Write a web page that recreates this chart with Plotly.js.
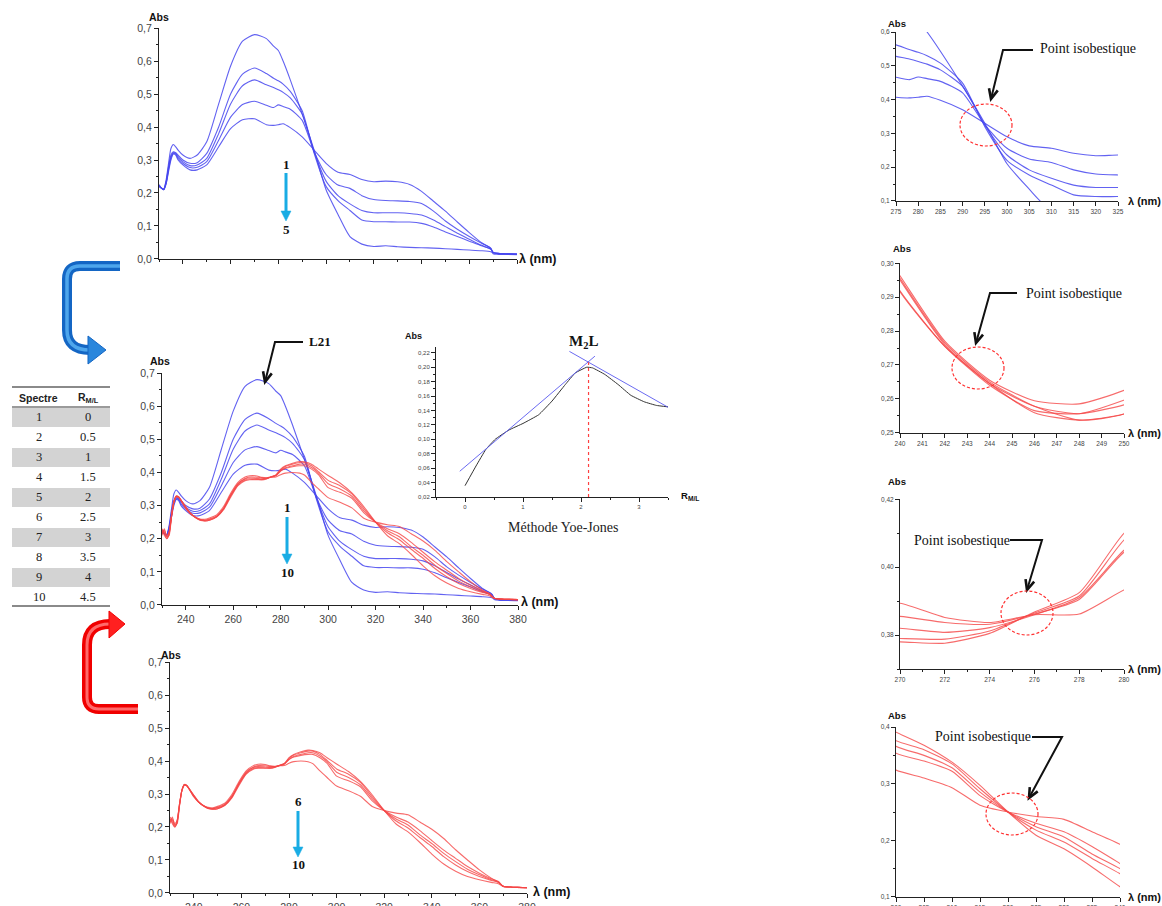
<!DOCTYPE html>
<html><head><meta charset="utf-8">
<script src="https://cdn.plot.ly/plotly-3.0.1.min.js"></script>
<style>body{margin:0;background:#fff}#c{width:1162px;height:906px}</style>
</head><body><div id="c"></div>
<script>
// ---------- DATA ----------
const WL_BLUE = [230,231,232,233,234,235,236,237,238,240,243,246,250,255,260,265,270,275,278,280,282,285,290,295,300,305,310,315,320,325,330,335,340,345,350,355,360,365,369,370,372,375,380];
const SPECTRE_1 = [0.22,0.215,0.212,0.24,0.29,0.335,0.347,0.34,0.33,0.315,0.305,0.315,0.355,0.47,0.585,0.66,0.68,0.668,0.645,0.632,0.60,0.543,0.44,0.33,0.21,0.135,0.068,0.045,0.038,0.04,0.037,0.035,0.034,0.033,0.031,0.029,0.027,0.025,0.022,0.018,0.016,0.015,0.014];
const SPECTRE_2 = [0.22,0.215,0.212,0.235,0.28,0.315,0.325,0.322,0.315,0.30,0.29,0.292,0.32,0.40,0.50,0.56,0.579,0.562,0.548,0.54,0.53,0.508,0.449,0.32,0.22,0.177,0.147,0.118,0.113,0.113,0.112,0.112,0.108,0.097,0.082,0.068,0.054,0.04,0.03,0.02,0.017,0.016,0.015];
const SPECTRE_3 = [0.22,0.215,0.21,0.232,0.275,0.31,0.322,0.32,0.31,0.295,0.283,0.285,0.305,0.38,0.47,0.525,0.543,0.528,0.52,0.513,0.505,0.488,0.439,0.325,0.236,0.192,0.167,0.147,0.14,0.14,0.14,0.138,0.133,0.118,0.098,0.078,0.06,0.042,0.03,0.02,0.017,0.016,0.015];
const SPECTRE_4 = [0.225,0.215,0.21,0.23,0.27,0.305,0.32,0.318,0.305,0.29,0.277,0.278,0.295,0.36,0.43,0.468,0.478,0.466,0.459,0.467,0.462,0.454,0.42,0.325,0.256,0.224,0.214,0.192,0.18,0.177,0.176,0.174,0.168,0.145,0.115,0.09,0.068,0.048,0.033,0.02,0.017,0.016,0.015];
const SPECTRE_5 = [0.225,0.215,0.21,0.228,0.265,0.30,0.318,0.315,0.30,0.285,0.27,0.27,0.285,0.34,0.395,0.422,0.425,0.407,0.405,0.407,0.41,0.398,0.37,0.33,0.29,0.263,0.256,0.241,0.234,0.236,0.234,0.226,0.205,0.175,0.145,0.112,0.08,0.05,0.032,0.016,0.014,0.014,0.013];

const WL_RED = [230,231,232,233,234,235,236,237,238,240,242,244,246,248,250,253,256,259,262,265,267,270,272,274,276,278,280,282,285,288,290,293,296,300,305,310,315,320,325,330,335,340,345,350,355,360,365,368,370,373,376,380];
const SPECTRE_6 = [0.21,0.23,0.205,0.21,0.265,0.31,0.328,0.326,0.316,0.2916,0.2755,0.2645,0.2559,0.2537,0.2555,0.265,0.288,0.326,0.36,0.375,0.378,0.378,0.3776,0.3805,0.3868,0.3925,0.41,0.42,0.428,0.433,0.432,0.425,0.41,0.391,0.368,0.338,0.297,0.25,0.209,0.185,0.153,0.118,0.088,0.066,0.05,0.04,0.032,0.028,0.02,0.018,0.017,0.016];
const SPECTRE_7 = [0.225,0.215,0.2,0.215,0.268,0.31,0.327,0.325,0.315,0.2919,0.2755,0.264,0.2565,0.2556,0.2582,0.266,0.29,0.33,0.362,0.377,0.38,0.379,0.3788,0.3812,0.3865,0.3915,0.408,0.418,0.425,0.43,0.43,0.42,0.402,0.376,0.36,0.335,0.291,0.25,0.218,0.197,0.168,0.141,0.11,0.085,0.065,0.05,0.038,0.032,0.02,0.018,0.017,0.016];
const SPECTRE_8 = [0.23,0.22,0.205,0.22,0.27,0.312,0.328,0.326,0.316,0.2951,0.276,0.2645,0.2578,0.2556,0.2596,0.268,0.293,0.332,0.365,0.38,0.383,0.382,0.3808,0.3822,0.386,0.391,0.405,0.414,0.42,0.425,0.425,0.415,0.398,0.366,0.35,0.328,0.285,0.25,0.224,0.206,0.176,0.15,0.12,0.095,0.072,0.055,0.04,0.033,0.02,0.018,0.017,0.016];
const SPECTRE_9 = [0.215,0.225,0.21,0.22,0.27,0.312,0.329,0.327,0.317,0.2956,0.2765,0.265,0.2578,0.2537,0.2555,0.267,0.292,0.333,0.366,0.382,0.386,0.3855,0.3837,0.3832,0.3862,0.3905,0.4044,0.412,0.417,0.42,0.42,0.41,0.393,0.354,0.34,0.322,0.279,0.25,0.23,0.215,0.189,0.159,0.13,0.105,0.08,0.06,0.043,0.035,0.02,0.018,0.017,0.016];
const SPECTRE_10 = [0.225,0.21,0.2,0.215,0.265,0.31,0.326,0.325,0.316,0.2963,0.277,0.2655,0.2594,0.2585,0.2625,0.272,0.298,0.338,0.37,0.386,0.39,0.3894,0.3852,0.3837,0.386,0.3862,0.3933,0.398,0.40,0.398,0.392,0.37,0.35,0.324,0.31,0.293,0.262,0.25,0.242,0.237,0.215,0.193,0.165,0.131,0.1,0.07,0.045,0.033,0.02,0.018,0.017,0.016];

// Yoe-Jones (mole ratio) inset
const YJ_R = [0,0.19,0.36,0.52,0.76,1,1.27,1.5,1.73,1.9,2.1,2.2,2.41,2.64,2.86,3.09,3.3,3.5];
const YJ_A = [0.0357,0.063,0.086,0.1,0.113,0.122,0.134,0.153,0.176,0.192,0.2,0.199,0.19,0.176,0.161,0.152,0.147,0.145];
const YJ_FIT1_R = [-0.09,2.24], YJ_FIT1_A = [0.0557,0.2153];
const YJ_FIT2_R = [1.8,3.5],  YJ_FIT2_A = [0.2219,0.1445];
const YJ_MAX_R = [2.13,2.13],  YJ_MAX_A = [0.02,0.207];

// table
const TAB_SPECTRE = ['1','2','3','4','5','6','7','8','9','10'];
const TAB_RML = ['0','0.5','1','1.5','2','2.5','3','3.5','4','4.5'];

// ---------- HELPERS ----------
const W = 1162, H = 906;
const fx = x => x / W, fy = y => 1 - y / H;
function P(segs){
  let s = '';
  for (const g of segs){ s += g[0]; for (let i = 1; i < g.length; i += 2) s += ' ' + fx(g[i]).toFixed(5) + ',' + fy(g[i+1]).toFixed(5) + ' '; }
  return s;
}
function pathShape(segs, color, width, fill){
  const o = {type:'path', xref:'paper', yref:'paper', path:P(segs), line:{color:color, width:width}};
  if (fill) o.fillcolor = fill;
  return o;
}
function arrowFilled(x0,y0,x1,y1,color,w,hl,hw){
  const dx=x1-x0, dy=y1-y0, L=Math.hypot(dx,dy), ux=dx/L, uy=dy/L, nx=-uy, ny=ux;
  const bx=x1-ux*hl, by=y1-uy*hl;
  return [pathShape([['M',x0,y0],['L',bx,by]], color, w),
          pathShape([['M',bx+nx*hw/2,by+ny*hw/2],['L',x1,y1],['L',bx-nx*hw/2,by-ny*hw/2],['Z']], color, 0.5, color)];
}
function arrowV(pts,color,w,hl,hw){
  const segs = pts.map((p,i)=>[i?'L':'M',p[0],p[1]]);
  const a = pts[pts.length-2], b = pts[pts.length-1];
  const dx=b[0]-a[0], dy=b[1]-a[1], L=Math.hypot(dx,dy), ux=dx/L, uy=dy/L, nx=-uy, ny=ux;
  const bx=b[0]-ux*hl, by=b[1]-uy*hl;
  return [pathShape(segs, color, w),
          pathShape([['M',bx+nx*hw/2,by+ny*hw/2],['L',b[0],b[1]],['L',bx-nx*hw/2,by-ny*hw/2]], color, w+0.6)];
}
function ellipse(cx,cy,rx,ry){
  return {type:'circle', xref:'paper', yref:'paper', x0:fx(cx-rx), x1:fx(cx+rx), y0:fy(cy+ry), y1:fy(cy-ry),
          line:{color:'#ff3030', width:1.2, dash:'3px,2px'}};
}
function T(x,y,text,size,family,color,extra){
  return Object.assign({xref:'paper', yref:'paper', x:fx(x), y:fy(y), text:text, showarrow:false,
    xanchor:'center', yanchor:'middle', font:{size:size, family:family||'Liberation Sans', color:color||'#111'}}, extra||{});
}
const SANS = 'Liberation Sans', SERIF = 'Liberation Serif';

function mkX(p0,p1,range,dtick,minor,fs,anchor,showLab){
  return {domain:[fx(p0),fx(p1)], range:range, anchor:anchor, showline:true, linecolor:'#222', linewidth:1,
    ticks:'outside', ticklen:4, tickcolor:'#222', tickwidth:1, dtick:dtick, tick0:0,
    minor: minor ? {dtick:minor, ticks:'outside', ticklen:2, tickcolor:'#222'} : undefined,
    showgrid:false, zeroline:false, showticklabels: showLab!==false,
    tickfont:{size:fs, color:'#444', family:SANS}, fixedrange:true};
}
function mkY(p0,p1,range,dtick,minor,fs,anchor,fmt){
  return {domain:[fy(p1),fy(p0)], range:range, anchor:anchor, showline:true, linecolor:'#222', linewidth:1,
    ticks:'outside', ticklen:4, tickcolor:'#222', tickwidth:1, dtick:dtick, tick0:0,
    minor: minor ? {dtick:minor, ticks:'outside', ticklen:2, tickcolor:'#222'} : undefined,
    showgrid:false, zeroline:false, tickformat:fmt,
    tickfont:{size:fs, color:'#444', family:SANS}, fixedrange:true};
}

// ---------- TRACES ----------
const BLUE = [SPECTRE_1,SPECTRE_2,SPECTRE_3,SPECTRE_4,SPECTRE_5];
const RED = [SPECTRE_6,SPECTRE_7,SPECTRE_8,SPECTRE_9,SPECTRE_10];
const BLUE_C = 'rgba(70,70,238,0.85)', RED_C = 'rgba(245,70,70,0.8)';
function lines(wl, arr, color, xa, ya, w){
  return arr.map(v => ({type:'scatter', mode:'lines', x:wl, y:v, xaxis:xa, yaxis:ya,
    line:{color:color, width:w||1.1, shape:'spline', smoothing:0.6}, hoverinfo:'skip'}));
}
let data = [];
data = data.concat(lines(WL_BLUE, BLUE, BLUE_C, 'x', 'y'));
data = data.concat(lines(WL_BLUE, BLUE, BLUE_C, 'x2', 'y2'));
data = data.concat(lines(WL_RED, RED, RED_C, 'x2', 'y2'));
data = data.concat(lines(WL_RED, RED, RED_C, 'x3', 'y3'));
data = data.concat(lines(WL_BLUE, BLUE, BLUE_C, 'x5', 'y5'));
data = data.concat(lines(WL_RED, RED, RED_C, 'x6', 'y6'));
data = data.concat(lines(WL_RED, RED, RED_C, 'x7', 'y7'));
data = data.concat(lines(WL_RED, RED, RED_C, 'x8', 'y8'));
// inset
data.push({type:'scatter', mode:'lines', x:YJ_R, y:YJ_A, xaxis:'x4', yaxis:'y4', line:{color:'#333', width:1, shape:'spline', smoothing:0.3}, hoverinfo:'skip'});
data.push({type:'scatter', mode:'lines', x:YJ_FIT1_R, y:YJ_FIT1_A, xaxis:'x4', yaxis:'y4', line:{color:'rgba(90,90,240,0.9)', width:1}, hoverinfo:'skip'});
data.push({type:'scatter', mode:'lines', x:YJ_FIT2_R, y:YJ_FIT2_A, xaxis:'x4', yaxis:'y4', line:{color:'rgba(90,90,240,0.9)', width:1}, hoverinfo:'skip'});
data.push({type:'scatter', mode:'lines', x:YJ_MAX_R, y:YJ_MAX_A, xaxis:'x4', yaxis:'y4', line:{color:'#ff4040', width:1.2, dash:'dot'}, hoverinfo:'skip'});

// ---------- SHAPES ----------
let shapes = [];
// table
for (let i = 0; i < 10; i++){
  if (i % 2 === 0) shapes.push({type:'rect', xref:'paper', yref:'paper', layer:'below', x0:fx(12), x1:fx(110), y0:fy(407+20*i+20), y1:fy(407+20*i+1), fillcolor:'#d3d3d3', line:{width:0}});
}
shapes.push(pathShape([['M',12,387],['L',110,387]], '#8a8a8a', 2));
shapes.push(pathShape([['M',12,407],['L',110,407]], '#9a9a9a', 2));
shapes.push(pathShape([['M',12,606],['L',110,606]], '#8a8a8a', 2));
// curved blue arrow
shapes.push(pathShape([['M',120,266],['L',80,266],['Q',67,266,67,279],['L',67,330],['Q',67,350,90,350]], '#1466c4', 10));
shapes.push(pathShape([['M',120,266],['L',80,266],['Q',67,266,67,279],['L',67,330],['Q',67,350,90,350]], '#4ea6ec', 3.5));
shapes.push(pathShape([['M',88,336],['L',106,350],['L',88,364],['Z']], '#1466c4', 1, '#2a86dc'));
// curved red arrow
shapes.push(pathShape([['M',138,709],['L',99,709],['Q',87,709,87,697],['L',87,645],['Q',87,624,110,624]], '#f00000', 10));
shapes.push(pathShape([['M',138,709],['L',99,709],['Q',87,709,87,697],['L',87,645],['Q',87,624,110,624]], '#ff6a6a', 3));
shapes.push(pathShape([['M',109,611],['L',125,624],['L',109,638],['Z']], '#f00000', 1, '#ff2020'));
// cyan direction arrows
const CY = '#19ace4';
shapes = shapes.concat(arrowFilled(286,173,286,221,CY,3,10,10));
shapes = shapes.concat(arrowFilled(287,517,287,564,CY,3,10,10));
shapes = shapes.concat(arrowFilled(298,811,298,857,CY,3,10,10));
// black annotation arrows
shapes = shapes.concat(arrowV([[303,342],[275,342],[265,382]], '#111', 2, 10, 9));
shapes = shapes.concat(arrowV([[1033,50],[1003,50],[991,99]], '#111', 2, 10, 9));
shapes = shapes.concat(arrowV([[1017,293],[990,293],[976,343]], '#111', 2, 10, 9));
shapes = shapes.concat(arrowV([[1010,540],[1042,540],[1027,590]], '#111', 2, 10, 9));
shapes = shapes.concat(arrowV([[1032,737],[1062,737],[1029,798]], '#111', 2, 10, 9));
// ellipses
shapes.push(ellipse(986,125,26,21));
shapes.push(ellipse(978,368,26,21));
shapes.push(ellipse(1027,613,26,22));
shapes.push(ellipse(1012,814,26,21));

// ---------- ANNOTATIONS ----------
const ann = [];
const absB = (x,y,s) => T(x,y,'<b>Abs</b>',s,SANS,'#111');
const lamB = (x,y,s) => T(x,y,'<b>λ (nm)</b>',s,SANS,'#111');
ann.push(absB(159,17,10.5), lamB(538,259,12.5));
ann.push(absB(160,361,10.5), lamB(540,602,12.5));
ann.push(absB(171,655,10.5), lamB(552,892,12.5));
ann.push(absB(413,336,9), T(690,496,'<b>R<sub>M/L</sub></b>',9.5,SANS,'#111'));
ann.push(T(583,342,'<b>M<sub>2</sub>L</b>',15,SERIF,'#111'));
ann.push(T(563,527,'Méthode Yoe-Jones',14,SERIF,'#222'));
ann.push(absB(897,23,9.5), lamB(1144,201,11));
ann.push(absB(902,249,9.5), lamB(1144,433,11));
ann.push(absB(897,481,9.5), lamB(1144,669,11));
ann.push(absB(897,715,9.5), lamB(1144,897,11));
ann.push(T(1088,48,'Point isobestique',14,SERIF,'#111'));
ann.push(T(1074,293,'Point isobestique',14,SERIF,'#111'));
ann.push(T(962,540,'Point isobestique',14,SERIF,'#111'));
ann.push(T(983,736,'Point isobestique',14,SERIF,'#111'));
ann.push(T(320,342,'<b>L21</b>',13,SERIF,'#111'));
ann.push(T(286,165,'<b>1</b>',13,SERIF,'#111'), T(286,229,'<b>5</b>',13,SERIF,'#111'));
ann.push(T(287,507,'<b>1</b>',13,SERIF,'#111'), T(287,572,'<b>10</b>',13,SERIF,'#111'));
ann.push(T(298,801,'<b>6</b>',13,SERIF,'#111'), T(298,864,'<b>10</b>',13,SERIF,'#111'));
// table text
ann.push(T(38,398,'<b>Spectre</b>',10.5,SANS,'#222'), T(88,398,'<b>R<sub>M/L</sub></b>',10.5,SANS,'#222'));
for (let i = 0; i < 10; i++){
  ann.push(T(39,417+20*i,TAB_SPECTRE[i],12.5,SERIF,'#222'));
  ann.push(T(88,417+20*i,TAB_RML[i],12.5,SERIF,'#222'));
}

// ---------- LAYOUT ----------
const layout = {
  width:W, height:H, margin:{l:0,r:0,t:0,b:0}, paper_bgcolor:'#fff', plot_bgcolor:'rgba(0,0,0,0)',
  showlegend:false, separators:', ', font:{family:SANS, color:'#333'},
  xaxis:  mkX(159,517,[230,380],20,10,10.5,'y',false),
  yaxis:  mkY(28,259,[-0.0001,0.7001],0.1,0.05,10.5,'x','.1f'),
  xaxis2: mkX(162,518,[230,380],20,10,10.5,'y2'),
  yaxis2: mkY(373,605,[-0.0001,0.7001],0.1,0.05,10.5,'x2','.1f'),
  xaxis3: mkX(170,527,[230,380],20,10,10.5,'y3'),
  yaxis3: mkY(662,893,[-0.0001,0.7001],0.1,0.05,10.5,'x3','.1f'),
  xaxis4: mkX(436,668,[-0.5,3.5],1,0.5,6,'y4'),
  yaxis4: mkY(347,497,[0.02,0.228],0.02,0.01,6,'x4','.2f'),
  xaxis5: mkX(896,1118,[275,325],5,null,6.5,'y5'),
  yaxis5: mkY(32,201,[0.0999,0.6001],0.1,0.05,6.5,'x5','.1f'),
  xaxis6: mkX(900,1124,[240,250],1,null,6.5,'y6'),
  yaxis6: mkY(263,433,[0.2499,0.3001],0.01,0.005,6.5,'x6','.2f'),
  xaxis7: mkX(900,1124,[270,280],2,1,6.5,'y7'),
  yaxis7: mkY(499,669,[0.37,0.4201],0.02,0.01,6.5,'x7','.2f'),
  xaxis8: mkX(896,1120,[300,340],5,null,6.5,'y8'),
  yaxis8: mkY(727,897,[0.0999,0.4001],0.1,0.05,6.5,'x8','.1f'),
  shapes: shapes, annotations: ann
};
Plotly.newPlot('c', data, layout, {staticPlot:true, displayModeBar:false});
</script></body></html>
